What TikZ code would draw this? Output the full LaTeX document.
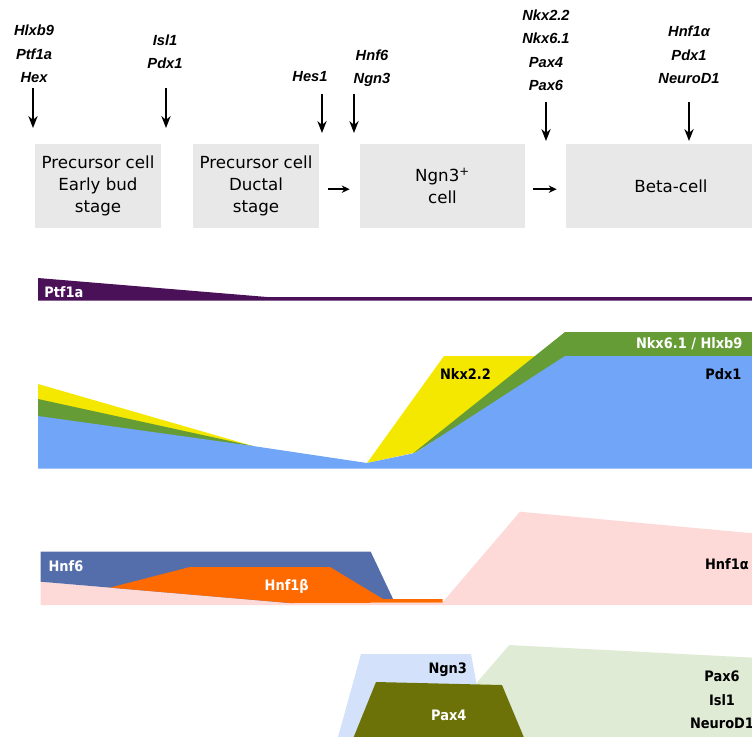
\documentclass[tikz,border=0pt]{standalone}
\usepackage{fontspec}
\usepackage{xcolor}
\usepackage{tikz}
\usetikzlibrary{arrows.meta}

\setmainfont{DejaVu Sans}
\newfontfamily\genefont{Liberation Sans}
\newfontfamily\bandfont{DejaVu Sans Condensed}

\definecolor{cellgray}{RGB}{232,232,232}
\definecolor{ptfpurple}{RGB}{74,17,89}
\definecolor{nkxyellow}{RGB}{245,232,0}
\definecolor{nkxgreen}{RGB}{102,156,53}
\definecolor{pdxblue}{RGB}{112,165,248}
\definecolor{hnfblue}{RGB}{84,110,171}
\definecolor{hnforange}{RGB}{255,106,0}
\definecolor{hnfpink}{RGB}{253,217,216}
\definecolor{ngnblue}{RGB}{211,225,250}
\definecolor{paxolive}{RGB}{109,114,8}
\definecolor{paxgreen}{RGB}{223,235,213}

\begin{document}
\begin{tikzpicture}[x=0.75pt,y=-0.75pt,
    cell/.style={fill=cellgray, align=center, inner sep=0pt, minimum height=63pt, font=\fontsize{12.5}{16.5}\selectfont},
    gene/.style={anchor=south, align=center, inner sep=0pt, font=\genefont\bfseries\itshape\fontsize{11}{17.5}\selectfont},
    band/.style={inner sep=0pt, font=\bandfont\bfseries\fontsize{10.8}{17.8}\selectfont},
    downarrow/.style={line width=1.1pt, -{Stealth[length=9pt,width=7pt]}},
    sidearrow/.style={line width=1.1pt, -{Stealth[length=6pt,width=5.5pt]}}]
    \useasboundingbox (0,0) rectangle (752,736);

    \node [cell, minimum width=94.5pt] (early) at (98,186) {Precursor cell\\Early bud\\stage};
    \node [cell, minimum width=94.5pt] (ductal) at (256,186) {Precursor cell\\Ductal\\stage};
    \node [cell, minimum width=123.75pt] (ngn) at (442.5,186) {Ngn3\textsuperscript{+}\\cell};
    \node [cell, minimum width=157.5pt] (beta) at (671,186) {Beta-cell};
    \draw [sidearrow] ([xshift=6.75pt,yshift=-2.4pt]ductal.east) -- ([xshift=-7.5pt,yshift=-2.4pt]ngn.west);
    \draw [sidearrow] ([xshift=6pt,yshift=-2.4pt]ngn.east) -- ([xshift=-6.75pt,yshift=-2.4pt]beta.west);

    \node [gene] (budgenes) at (34,83) {Hlxb9\\Ptf1a\\Hex};
    \node [gene] (islgenes) at (165,69) {Isl1\\Pdx1};
    \node [gene] (hesgene) at (310,82) {Hes1};
    \node [gene] (ngngenes) at (372,87) {Hnf6\\Ngn3};
    \node [gene] (nkxgenes) at (546,91) {Nkx2.2\\Nkx6.1\\Pax4\\Pax6};
    \node [gene] (betagenes) at (689,84) {Hnf1α\\Pdx1\\NeuroD1};
    \coordinate (budend) at (33,128);
    \coordinate (islend) at (166,128);
    \coordinate (hesend) at (322,133);
    \coordinate (ngnend) at (354,133);
    \coordinate (nkxend) at (546,141);
    \coordinate (betaend) at (689,141);
    \draw [downarrow, shorten <=3.75pt] (budgenes.south -| budend) -- (budend);
    \draw [downarrow, shorten <=14.25pt] (islgenes.south -| islend) -- (islend);
    \draw [downarrow, shorten <=9pt] (hesgene.south -| hesend) -- (hesend);
    \draw [downarrow, shorten <=5.25pt] (ngngenes.south -| ngnend) -- (ngnend);
    \draw [downarrow, shorten <=8.25pt] (nkxgenes.south -| nkxend) -- (nkxend);
    \draw [downarrow, shorten <=13.5pt] (betagenes.south -| betaend) -- (betaend);

    % expression bands
    \fill [ptfpurple] (38,278) -- (267,297) -- (760,297) -- (760,300.5) -- (38,300.5) -- cycle;

    \fill [nkxyellow] (38,384) -- (253,446) -- (38,420) -- cycle;
    \fill [nkxyellow] (367,463) -- (444,356) -- (540,356) -- (418,452) -- cycle;
    \fill [nkxgreen] (38,399) -- (253,446) -- (38,420) -- cycle;
    \fill [nkxgreen] (411,455) -- (565,332) -- (760,332) -- (760,360) -- (565,360) -- cycle;
    \fill [pdxblue] (38,468.5) -- (38,416) -- (253,446) -- (367,463) -- (415,453) -- (565,356) -- (760,356) -- (760,468.5) -- cycle;

    \fill [hnfpink] (40.7,605) -- (40.7,581.7) -- (290,603) -- (442,603) -- (520,511.7) -- (760,534) -- (760,605) -- cycle;
    \fill [hnfblue] (40.7,581.7) -- (40.7,551.7) -- (370.7,551.7) -- (393.3,599.5) -- (290,603) -- cycle;
    \fill [hnforange] (110,587.6) -- (190,567) -- (330,567) -- (383,599) -- (442.7,599) -- (442.7,602.5) -- (290,603) -- cycle;

    \fill [paxgreen] (476.7,682.7) -- (509.3,645) -- (760,658) -- (760,740) -- (500,740) -- cycle;
    \fill [ngnblue] (337.2,740) -- (361,654) -- (471,654) -- (477,686) -- (420,740) -- cycle;
    \fill [paxolive] (352.5,740) -- (376,682) -- (502,685) -- (525,740) -- cycle;

    \node [band, white, anchor=west] (ptflabel) at (44,292) {Ptf1a};
    \node [band] (nkx22label) at (465.5,374) {Nkx2.2};
    \node [band, white, anchor=east] (nkx61label) at (742.7,344) {Nkx6.1 / Hlxb9};
    \node [band, anchor=east] (pdxlabel) at (741.7,374) {Pdx1};
    \node [band, white, anchor=west] (hnf6label) at (48.3,566) {Hnf6};
    \node [band, white] (hnf1blabel) at (286.7,586) {Hnf1β};
    \node [band, anchor=east] (hnf1alabel) at (749,564) {Hnf1α};
    \node [band] (ngn3label) at (447.7,670) {Ngn3};
    \node [band, white] (pax4label) at (448.8,715) {Pax4};
    \node [band, align=center] (pax6label) at (722,700) {Pax6\\Isl1\\NeuroD1};
\end{tikzpicture}
\end{document}
